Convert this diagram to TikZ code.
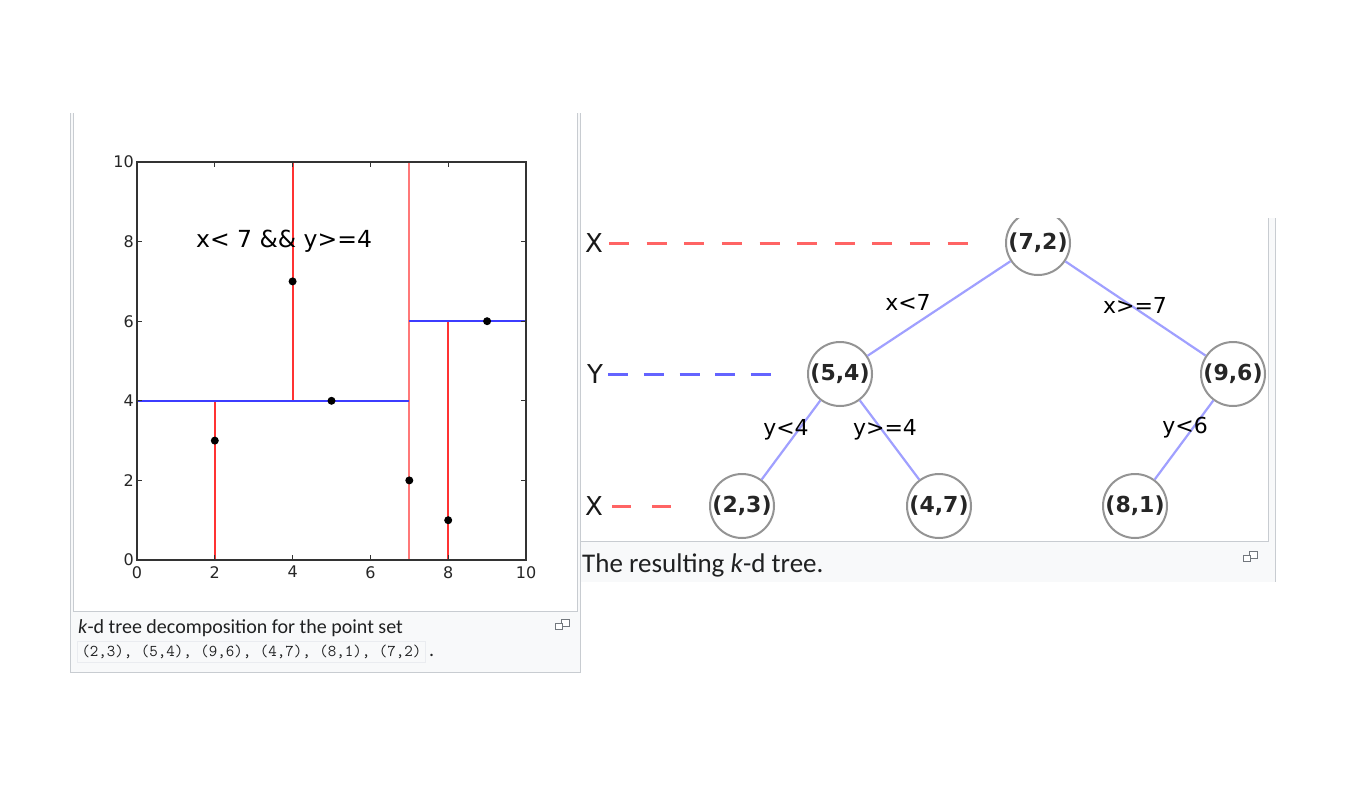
\documentclass[tikz,border=0pt]{standalone}
\usepackage{fontspec}
\setmainfont{DejaVu Sans}
\newfontfamily\capfont{Carlito}
\definecolor{edgeblue}{RGB}{160,160,255}
\definecolor{dashred}{RGB}{255,100,100}
\definecolor{dashblue}{RGB}{100,100,255}
\definecolor{capbg}{RGB}{248,249,250}
\definecolor{framec}{RGB}{200,204,209}
\definecolor{monobd}{RGB}{234,236,240}
\definecolor{captext}{RGB}{32,33,34}
\definecolor{iconc}{RGB}{114,119,125}
\definecolor{plotred}{RGB}{255,50,50}
\definecolor{plotpink}{RGB}{255,120,120}
\definecolor{plotblue}{RGB}{60,60,255}
\definecolor{axisc}{RGB}{51,51,51}
\tikzset{
  frameline/.style={draw=framec, line width=1pt},
  tnode/.style={circle, draw=black!42, line width=2pt, fill=white, minimum size=64pt, inner sep=0pt,
    font=\bfseries\fontsize{22}{22}\selectfont, text=black!85},
  tedge/.style={draw=edgeblue, line width=2.2pt},
  elabel/.style={inner sep=0pt, font=\fontsize{22}{22}\selectfont},
  lvl/.style={inner sep=0pt, font=\fontsize{26}{26}\selectfont, text=black!90},
  ticklab/.style={inner sep=0pt, font=\fontsize{16}{16}\selectfont, text=black!85},
  dot/.style={circle, fill=black, inner sep=0pt, minimum size=8pt},
  iconbox/.style={draw=iconc, line width=1pt, fill=white},
  kdline/.style={line width=2pt},
}
\begin{document}
\begin{tikzpicture}[x=1pt,y=-1pt]
\useasboundingbox (0,0) rectangle (1348,800);
\fill[white] (0,0) rectangle (1348,800);

% ---------- left panel frame ----------
\fill[capbg] (70,113) rectangle (580,672);
\draw[frameline] (70,113) -- (70,672) -- (580,672) -- (580,113);
\fill[white] (73,113) rectangle (577,611);
\draw[frameline] (73,113) -- (73,611) -- (577,611) -- (577,113);

% ---------- plot ----------
\begin{scope}[xshift=137pt, yshift=-560pt, x=38.9pt, y=39.8pt]
  \draw[kdline, draw=plotpink] (7,0) -- (7,10);
  \draw[kdline, draw=plotred] (2,0) -- (2,4);
  \draw[kdline, draw=plotred] (4,4) -- (4,10);
  \draw[kdline, draw=plotred] (8,0) -- (8,6);
  \draw[kdline, draw=plotblue] (0,4) -- (7,4);
  \draw[kdline, draw=plotblue] (7,6) -- (10,6);
  \draw[draw=axisc, line width=1.5pt] (0,0) rectangle (10,10);
  \foreach \t in {2,4,6,8} {
    \draw[draw=axisc, line width=1.2pt] (\t,0) -- ++(0pt,5pt);
    \draw[draw=axisc, line width=1.2pt] (\t,10) -- ++(0pt,-5pt);
    \draw[draw=axisc, line width=1.2pt] (0,\t) -- ++(5pt,0pt);
    \draw[draw=axisc, line width=1.2pt] (10,\t) -- ++(-5pt,0pt);
  }
  \foreach \t in {0,2,4,6,8,10} {
    \node[ticklab, anchor=north] (xl\t) at ([yshift=-6pt]\t,0) {\t};
    \node[ticklab, anchor=east] (yl\t) at ([xshift=-3pt]0,\t) {\t};
  }
  \node[dot] (p23) at (2,3) {};
  \node[dot] (p54) at (5,4) {};
  \node[dot] (p96) at (9,6) {};
  \node[dot] (p47) at (4,7) {};
  \node[dot] (p81) at (8,1) {};
  \node[dot] (p72) at (7,2) {};
  \node[inner sep=0pt, font=\fontsize{23.5}{23.5}\selectfont] (cond) at (3.78,8.01) {x< 7 \&\& y>=4};
\end{scope}

% ---------- left caption ----------
\node[anchor=west, inner sep=0pt, text=captext, font=\capfont\fontsize{20}{20}\selectfont] (cap1) at (78,628) {\textit{k}-d tree decomposition for the point set};
\node[anchor=west, fill=capbg, draw=monobd, line width=1pt, inner xsep=4pt, inner ysep=0pt,
      minimum height=21pt, text=captext, font=\ttfamily\fontsize{16.5}{16.5}\selectfont] (mono) at (77,651.5) {(2,3), (5,4), (9,6), (4,7), (8,1), (7,2)};
\node[anchor=base west, inner sep=0pt, text=captext, font=\capfont\fontsize{20}{20}\selectfont] (dot1) at ([xshift=3pt]mono.base east) {.};
\draw[iconbox] (561,619) rectangle (569,626);
\draw[iconbox] (555,623) rectangle (562,629);

% ---------- right panel frame ----------
\fill[capbg] (581,218) rectangle (1275,582);
\fill[white] (581,218) rectangle (1268,541);
\draw[frameline] (581,541) -- (1268,541) -- (1268,218);
\draw[frameline] (1275,218) -- (1275,582);

% ---------- tree ----------
\begin{scope}
  \clip (581,218) rectangle (1267.5,540.5);
  \node[tnode] (n72) at (1038,243) {(7,2)};
  \node[tnode] (n54) at (840,374) {(5,4)};
  \node[tnode] (n96) at (1233,374) {(9,6)};
  \node[tnode] (n23) at (742,506) {(2,3)};
  \node[tnode] (n47) at (939,506) {(4,7)};
  \node[tnode] (n81) at (1135,506) {(8,1)};
  \draw[tedge] (n72) -- (n54);
  \draw[tedge] (n72) -- (n96);
  \draw[tedge] (n54) -- (n23);
  \draw[tedge] (n54) -- (n47);
  \draw[tedge] (n96) -- (n81);
  \node[elabel] (e1) at (908,302) {x<7};
  \node[elabel] (e2) at (1135,305) {x>=7};
  \node[elabel] (e3) at (786,430) {y<4};
  \node[elabel] (e4) at (885,430) {y>=4};
  \node[elabel] (e5) at (1185,428) {y<6};

  \node[lvl] (lx1) at (594,243) {X};
  \node[lvl] (ly) at (595,374) {Y};
  \node[lvl] (lx2) at (594,506) {X};
  \coordinate (dx1) at (970,243);
  \coordinate (dy) at (773,374);
  \coordinate (dx2) at (673,506);
  \draw[dashred, line width=3pt, dash pattern=on 20pt off 17.6pt, shorten <=6pt] (lx1.east) -- (dx1);
  \draw[dashblue, line width=3pt, dash pattern=on 20pt off 15.7pt, shorten <=5pt] (ly.east) -- (dy);
  \draw[dashred, line width=3pt, dash pattern=on 19pt off 21pt, shorten <=9pt] (lx2.east) -- (dx2);
\end{scope}

% ---------- right caption ----------
\node[anchor=west, inner sep=0pt, text=captext, font=\capfont\fontsize{27}{27}\selectfont] (cap2) at (582,565) {The resulting \textit{k}-d tree.};
\draw[iconbox] (1249,551) rectangle (1257,558);
\draw[iconbox] (1243,555) rectangle (1250,561);
\end{tikzpicture}
\end{document}
